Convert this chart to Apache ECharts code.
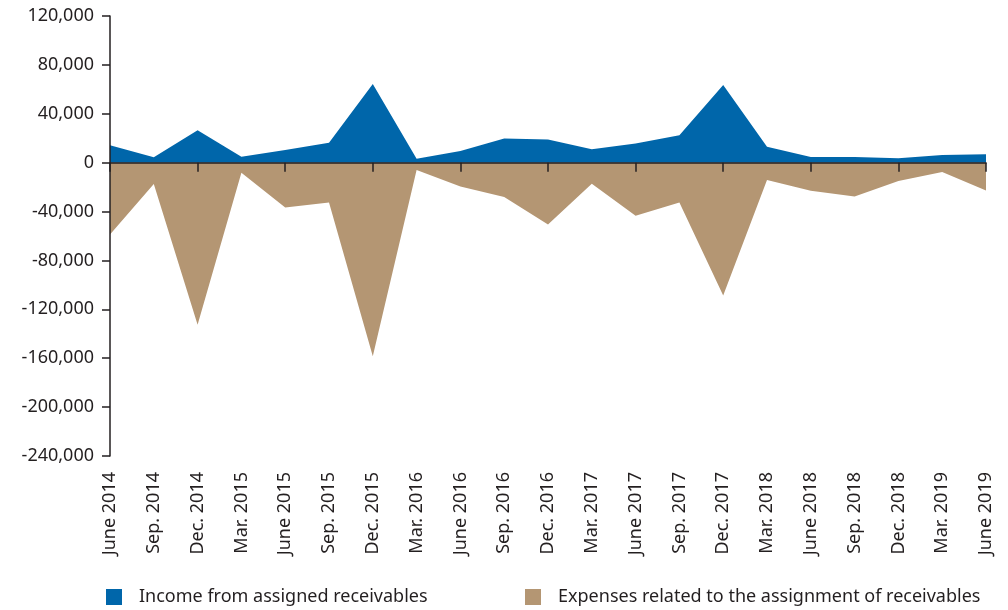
<!DOCTYPE html>
<html>
<head>
<meta charset="utf-8">
<script src="https://cdn.jsdelivr.net/npm/echarts@6/dist/echarts.min.js"></script>
<style>html,body{margin:0;padding:0;background:#fff}#c{width:1008px;height:610px}</style>
</head>
<body>
<div id="c"></div>
<script>
const categories = ["June 2014","Sep. 2014","Dec. 2014","Mar. 2015","June 2015","Sep. 2015","Dec. 2015","Mar. 2016","June 2016","Sep. 2016","Dec. 2016","Mar. 2017","June 2017","Sep. 2017","Dec. 2017","Mar. 2018","June 2018","Sep. 2018","Dec. 2018","Mar. 2019","June 2019"];
const income = [14300,4400,26600,4900,10400,16200,64300,3300,9600,19700,18900,11000,15600,22500,63500,13100,4700,4700,3600,6300,6900];
const expenses = [-58800,-17500,-132600,-8200,-36600,-32500,-158300,-6000,-19400,-28100,-50600,-17200,-43500,-32500,-108600,-14200,-23000,-27600,-15000,-7600,-22700];
const seriesNames = ["Income from assigned receivables","Expenses related to the assignment of receivables"];
const yTicks = {min:-240000, max:120000, interval:40000};

const FONT = "Noto Sans";
const TXT = "#231f20";
const chart = echarts.init(document.getElementById('c'), null, {renderer:'canvas'});
chart.setOption({
  animation:false,
  textStyle:{fontFamily:FONT},
  grid:{left:110, right:22, top:16, bottom:154, containLabel:false},
  legend:[
    {left:101, top:583, itemWidth:16, itemHeight:16, icon:'rect', data:[seriesNames[0]],
     textStyle:{fontFamily:FONT, fontSize:18, color:TXT, padding:[0,0,0,12]}},
    {left:520, top:583, itemWidth:16, itemHeight:16, icon:'rect', data:[seriesNames[1]],
     textStyle:{fontFamily:FONT, fontSize:18, color:TXT, padding:[0,0,0,12]}}
  ],
  xAxis:[
    {type:'category', data:categories, boundaryGap:false, z:5,
     axisLine:{onZero:true, lineStyle:{color:'#231f20', width:1.5}},
     axisTick:{show:true, inside:false, length:9, lineStyle:{color:'#231f20', width:1.5}},
     axisLabel:{show:false}, splitLine:{show:false}},
    {type:'category', data:categories, boundaryGap:false, position:'bottom',
     axisLine:{show:false, onZero:false}, axisTick:{show:false},
     axisLabel:{show:true, rotate:90, margin:16, fontSize:18, color:TXT, fontFamily:FONT, interval:0},
     splitLine:{show:false}}
  ],
  yAxis:{type:'value', min:yTicks.min, max:yTicks.max, interval:yTicks.interval, z:5,
    axisLine:{show:true, onZero:false, lineStyle:{color:'#231f20', width:1.5}},
    axisTick:{show:true, length:8, lineStyle:{color:'#231f20', width:1.5}},
    axisLabel:{margin:16, fontSize:18, color:TXT, fontFamily:FONT,
      formatter:v=>v.toLocaleString('en-US')},
    splitLine:{show:false}},
  series:[
    {name:seriesNames[0], type:'line', data:income, xAxisIndex:0, symbol:'none', smooth:false,
     itemStyle:{color:'#0066aa'}, lineStyle:{width:0}, areaStyle:{color:'#0066aa', opacity:1}},
    {name:seriesNames[1], type:'line', data:expenses, xAxisIndex:0, symbol:'none', smooth:false,
     itemStyle:{color:'#b49673'}, lineStyle:{width:0}, areaStyle:{color:'#b49673', opacity:1}}
  ]
});
</script>
</body>
</html>
